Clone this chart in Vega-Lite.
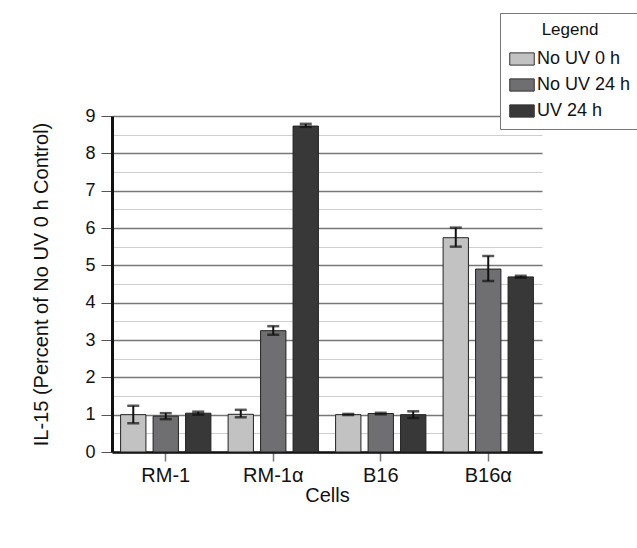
{
  "$schema": "https://vega.github.io/schema/vega-lite/v6.json",
  "width": 430,
  "height": 336,
  "autosize": {"type": "none"},
  "padding": {"left": 112, "top": 116, "right": 95, "bottom": 96},
  "background": "white",
  "config": {
    "font": "Liberation Sans",
    "view": {"stroke": null},
    "axisY": {
      "labelFontSize": 18,
      "labelColor": "#111",
      "labelPadding": 6,
      "titleFontSize": 20,
      "titleFontWeight": "normal",
      "titleColor": "#111",
      "titlePadding": 33,
      "domainColor": "#111",
      "domainWidth": 3,
      "tickColor": "#555",
      "tickSize": 11
    }
  },
  "data": {
    "values": [
      {"cell": "RM-1", "cond": "No UV 0 h", "value": 1.0, "lo": 0.77, "hi": 1.24},
      {"cell": "RM-1", "cond": "No UV 24 h", "value": 0.96, "lo": 0.88, "hi": 1.04},
      {"cell": "RM-1", "cond": "UV 24 h", "value": 1.04, "lo": 1.0, "hi": 1.08},
      {"cell": "RM-1α", "cond": "No UV 0 h", "value": 1.01, "lo": 0.93, "hi": 1.13},
      {"cell": "RM-1α", "cond": "No UV 24 h", "value": 3.25, "lo": 3.14, "hi": 3.37},
      {"cell": "RM-1α", "cond": "UV 24 h", "value": 8.73, "lo": 8.71, "hi": 8.79},
      {"cell": "B16", "cond": "No UV 0 h", "value": 1.0, "lo": 0.99, "hi": 1.02},
      {"cell": "B16", "cond": "No UV 24 h", "value": 1.03, "lo": 1.01, "hi": 1.05},
      {"cell": "B16", "cond": "UV 24 h", "value": 1.0, "lo": 0.91, "hi": 1.09},
      {"cell": "B16α", "cond": "No UV 0 h", "value": 5.74, "lo": 5.5, "hi": 6.01},
      {"cell": "B16α", "cond": "No UV 24 h", "value": 4.9, "lo": 4.58, "hi": 5.25},
      {"cell": "B16α", "cond": "UV 24 h", "value": 4.69, "lo": 4.67, "hi": 4.72}
    ]
  },
  "encoding": {
    "x": {
      "field": "cell",
      "type": "nominal",
      "sort": ["RM-1", "RM-1α", "B16", "B16α"],
      "scale": {"paddingInner": 0.16, "paddingOuter": 0.08},
      "axis": {
        "title": "Cells",
        "labelAngle": 0,
        "labelFontSize": 20,
        "labelColor": "#111",
        "labelPadding": 4,
        "titleFontSize": 20,
        "titleFontWeight": "normal",
        "titleColor": "#111",
        "titlePadding": 0,
        "domainColor": "#111",
        "domainWidth": 2.5,
        "tickColor": "#777",
        "tickSize": 9,
        "tickWidth": 1.5,
        "grid": false
      }
    },
    "xOffset": {
      "field": "cond",
      "type": "nominal",
      "sort": ["No UV 0 h", "No UV 24 h", "UV 24 h"],
      "scale": {"paddingInner": 0.22, "paddingOuter": 0}
    }
  },
  "layer": [
    {
      "mark": {"type": "bar", "stroke": "#222", "strokeWidth": 1},
      "encoding": {
        "y": {
          "field": "value",
          "type": "quantitative",
          "scale": {"domain": [0, 9], "nice": false},
          "axis": {
            "title": "IL-15 (Percent of No UV 0 h Control)",
            "values": [0, 0.5, 1, 1.5, 2, 2.5, 3, 3.5, 4, 4.5, 5, 5.5, 6, 6.5, 7, 7.5, 8, 8.5, 9],
            "labelExpr": "datum.value % 1 === 0 ? '' + datum.value : ''",
            "tickOpacity": {"condition": {"test": "datum.value % 1 === 0", "value": 1}, "value": 0},
            "grid": true,
            "gridColor": {"condition": {"test": "datum.value % 1 === 0", "value": "#777"}, "value": "#cfcfcf"},
            "gridWidth": {"condition": {"test": "datum.value % 1 === 0", "value": 1.5}, "value": 1}
          }
        },
        "fill": {
          "field": "cond",
          "type": "nominal",
          "sort": ["No UV 0 h", "No UV 24 h", "UV 24 h"],
          "scale": {"domain": ["No UV 0 h", "No UV 24 h", "UV 24 h"], "range": ["#c2c2c2", "#6f6f72", "#383838"]},
          "legend": {
            "title": "Legend",
            "orient": "none",
            "legendX": 388,
            "legendY": -103,
            "fillColor": "white",
            "strokeColor": "#777",
            "padding": 9,
            "titleFontSize": 17,
            "titleFontWeight": "normal",
            "titleColor": "#111",
            "titleAnchor": "middle",
            "titlePadding": 7,
            "symbolType": "M-1,-0.5H1V0.5H-1Z",
            "symbolSize": 600,
            "symbolStrokeColor": "#333",
            "symbolStrokeWidth": 1,
            "symbolOpacity": 1,
            "labelFontSize": 18,
            "labelColor": "#111",
            "labelOffset": 2,
            "rowPadding": 4
          }
        }
      }
    },
    {
      "mark": {"type": "rule", "color": "#111", "strokeWidth": 2},
      "encoding": {
        "y": {
          "field": "lo",
          "type": "quantitative",
          "axis": {
            "title": "IL-15 (Percent of No UV 0 h Control)",
            "values": [0, 0.5, 1, 1.5, 2, 2.5, 3, 3.5, 4, 4.5, 5, 5.5, 6, 6.5, 7, 7.5, 8, 8.5, 9],
            "labelExpr": "datum.value % 1 === 0 ? '' + datum.value : ''",
            "tickOpacity": {"condition": {"test": "datum.value % 1 === 0", "value": 1}, "value": 0},
            "grid": true,
            "gridColor": {"condition": {"test": "datum.value % 1 === 0", "value": "#777"}, "value": "#cfcfcf"},
            "gridWidth": {"condition": {"test": "datum.value % 1 === 0", "value": 1.5}, "value": 1}
          }
        },
        "y2": {"field": "hi"}
      }
    },
    {
      "mark": {"type": "tick", "color": "#111", "size": 12, "thickness": 2.5},
      "encoding": {
        "y": {
          "field": "lo",
          "type": "quantitative",
          "axis": {
            "title": "IL-15 (Percent of No UV 0 h Control)",
            "values": [0, 0.5, 1, 1.5, 2, 2.5, 3, 3.5, 4, 4.5, 5, 5.5, 6, 6.5, 7, 7.5, 8, 8.5, 9],
            "labelExpr": "datum.value % 1 === 0 ? '' + datum.value : ''",
            "tickOpacity": {"condition": {"test": "datum.value % 1 === 0", "value": 1}, "value": 0},
            "grid": true,
            "gridColor": {"condition": {"test": "datum.value % 1 === 0", "value": "#777"}, "value": "#cfcfcf"},
            "gridWidth": {"condition": {"test": "datum.value % 1 === 0", "value": 1.5}, "value": 1}
          }
        }
      }
    },
    {
      "mark": {"type": "tick", "color": "#111", "size": 12, "thickness": 2.5},
      "encoding": {
        "y": {
          "field": "hi",
          "type": "quantitative",
          "axis": {
            "title": "IL-15 (Percent of No UV 0 h Control)",
            "values": [0, 0.5, 1, 1.5, 2, 2.5, 3, 3.5, 4, 4.5, 5, 5.5, 6, 6.5, 7, 7.5, 8, 8.5, 9],
            "labelExpr": "datum.value % 1 === 0 ? '' + datum.value : ''",
            "tickOpacity": {"condition": {"test": "datum.value % 1 === 0", "value": 1}, "value": 0},
            "grid": true,
            "gridColor": {"condition": {"test": "datum.value % 1 === 0", "value": "#777"}, "value": "#cfcfcf"},
            "gridWidth": {"condition": {"test": "datum.value % 1 === 0", "value": 1.5}, "value": 1}
          }
        }
      }
    }
  ]
}
